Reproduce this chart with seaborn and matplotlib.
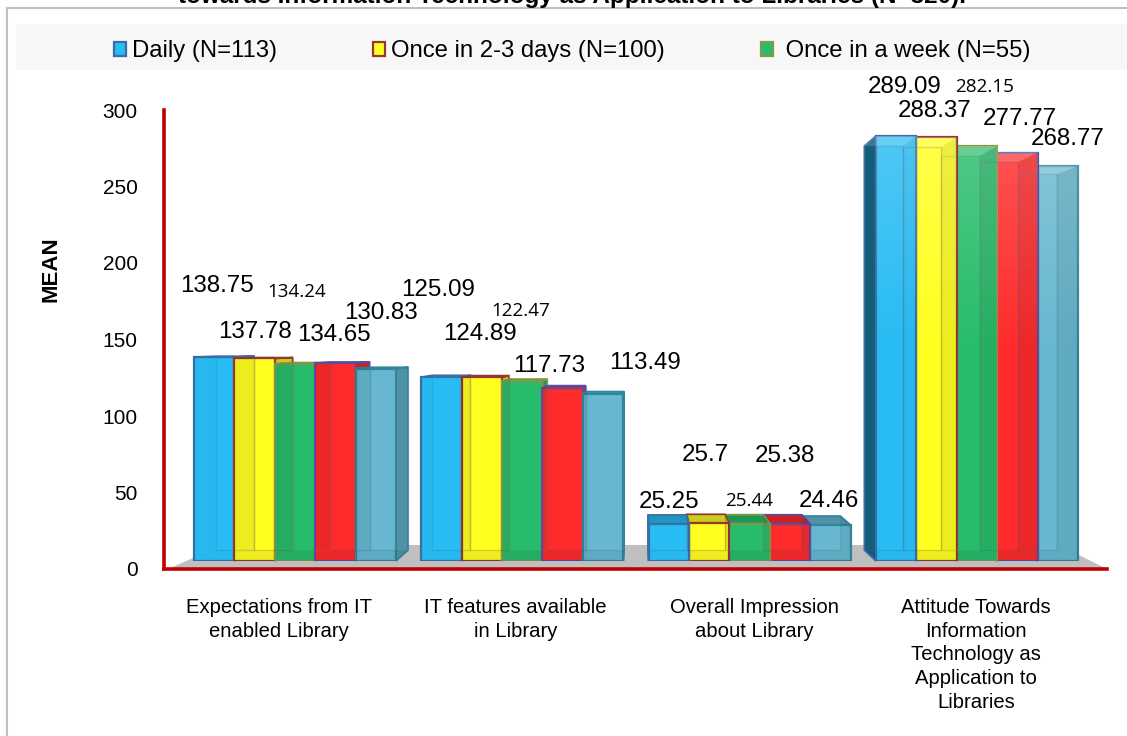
import matplotlib
matplotlib.use("Agg")
import numpy as np
import pandas as pd
import seaborn as sns
import matplotlib.pyplot as plt
from matplotlib.patches import Polygon, Rectangle
from matplotlib.colors import to_rgb, LinearSegmentedColormap

# ---- data ----
categories = ["Expectations from IT\nenabled Library",
              "IT features available\nin Library",
              "Overall Impression\nabout Library",
              "Attitude Towards\nInformation\nTechnology as\nApplication to\nLibraries"]
series = ["Daily (N=113)", "Once in 2-3 days (N=100)", " Once in a week (N=55)", "Series 4", "Series 5"]
daily = [138.75, 125.09, 25.25, 289.09]
every_few_days = [137.78, 124.89, 25.7, 288.37]
weekly = [134.24, 122.47, 25.44, 282.15]
series4 = [134.65, 117.73, 25.38, 277.77]
series5 = [130.83, 113.49, 24.46, 268.77]
all_values = [daily, every_few_days, weekly, series4, series5]
title = "towards Information Technology as Application to Libraries (N=320)."

# ---- styles ----
faces = ["#27bcf3", "#ffff20", "#27bc6b", "#ff2a2a", "#66b7cf"]
edges = ["#3b6ea5", "#953735", "#7f9a48", "#604a9b", "#31859c"]
small_labels = {(2, 0), (2, 1), (2, 2), (2, 3)}  # (series, group) set in the smaller face
# data-label offsets from each bar's front top centre, in pixels
label_dx = [[2.5, -3.8, -0.1, 8.5], [0, -2.2, -4, -1.5], [2, -1.8, -0.6, 8],
            [-1, -13.7, -5.5, 2.5], [5.5, 41.7, -1.6, 10]]
label_dy = [[71, 87, 22, 49], [26, 43, 68, 26], [72, 70, 23, 59],
            [28, 22, 68, 34], [56, 31, 24, 27]]

W, H = 1127, 736
sns.set_theme(style="white")
plt.rcParams["font.family"] = ["Liberation Sans", "DejaVu Sans"]
plt.rcParams["text.color"] = "black"
plt.rcParams["xtick.color"] = "black"
plt.rcParams["ytick.color"] = "black"
plt.rcParams["axes.labelcolor"] = "black"
fig = plt.figure(figsize=(W / 100, H / 100), dpi=100, facecolor="white")

def fx(p): return p / W
def fy(p): return 1 - p / H

# frame and legend band
fig.add_artist(Rectangle((fx(7), fy(800)), fx(1300), fy(8) - fy(800), transform=fig.transFigure,
                         fill=False, ec="#c0c0c0", lw=1.5))
fig.add_artist(Rectangle((fx(16), fy(70)), fx(1200), fy(24) - fy(70), transform=fig.transFigure,
                         fc="#f7f7f7", ec="none"))
fig.text(fx(572), fy(2.5), title, ha="center", va="baseline", fontsize=17.5, fontweight="bold", color="black")

L, R = 164, 1107
# axes carrying the scale and the red axis lines
ax_axis = fig.add_axes([fx(L), fy(569), fx(R - L), fy(110) - fy(569)], facecolor="none")
# axes carrying the bars: the front plane of the 3-D box
ax = fig.add_axes([fx(L), fy(561), fx(R - L), fy(120) - fy(561)], facecolor="none", zorder=3)

df = pd.DataFrame({
    "category": np.tile(categories, len(series)),
    "series": np.repeat(series, len(categories)),
    "value": np.concatenate(all_values),
})
sns.barplot(data=df, x="category", y="value", hue="series", hue_order=series, order=categories,
            palette=faces, width=0.889, gap=0, saturation=1, ax=ax, errorbar=None, legend=True)
handles, labels = ax.get_legend_handles_labels()
ax.get_legend().remove()

xlim = (-0.576, 3.572)
ax.set_xlim(xlim); ax.set_ylim(0, 300); ax.axis("off")

ax_axis.set_xlim(xlim); ax_axis.set_ylim(0, 300)
ax_axis.set_yticks([0, 50, 100, 150, 200, 250, 300])
ax_axis.set_xticks([-0.07, 0.97, 2.02, 2.995])
ax_axis.set_xticklabels(categories, fontsize=14.6, linespacing=1.31)
ax_axis.tick_params(axis="x", length=0, pad=21)
ax_axis.tick_params(axis="y", length=0, pad=19, labelsize=15)
ax_axis.set_ylabel("MEAN", fontsize=16, fontweight="bold", labelpad=0)
ax_axis.yaxis.set_label_coords((61 - L) / (R - L), 0.654)
for s in ("top", "right"):
    ax_axis.spines[s].set_visible(False)
for s in ("left", "bottom"):
    ax_axis.spines[s].set_color("#c00000"); ax_axis.spines[s].set_linewidth(2.6)
# floor of the box
ax_axis.add_patch(Polygon([(-0.559, 0), (-0.317, 15.7), (3.36, 15.7), (3.572, 0)],
                          closed=True, fc="#bfbfbf", ec="none", zorder=1))

# perspective: back of each bar recedes towards one vanishing point
VP = np.array([1.518, 150.0]); K = 0.049
def back(p): return np.asarray(p, float) + (VP - np.asarray(p, float)) * K
def shade(c, f): return tuple(np.clip(np.array(to_rgb(c)) * f, 0, 1))

white_fade = LinearSegmentedColormap.from_list("fade", [(1, 1, 1, 0), (1, 1, 1, 0), (1, 1, 1, 0.18)])

n_s, n_c = len(series), len(categories)
bars = [b for c in ax.containers for b in c]
for i, bar in enumerate(bars):
    s, g = i // n_c, i % n_c
    x0, x1 = bar.get_x(), bar.get_x() + bar.get_width()
    y1 = bar.get_height()
    z = 10 - abs((x0 + x1) / 2 - VP[0])      # bars nearest the vanishing point sit on top
    col, ec = faces[s], edges[s]
    A, B, C, D = (x0, 0), (x1, 0), (x1, y1), (x0, y1)
    a, b, c, d = back(A), back(B), back(C), back(D)
    dark = shade(col, 0.80)
    bar.set_zorder(z + 0.1); bar.set_edgecolor(ec); bar.set_linewidth(1.6)
    kw = dict(closed=True, clip_on=False)
    # faces that lie outside the front rectangle
    if c[0] > x1:
        ax.add_patch(Polygon([B, b, c, C], fc=dark, ec=ec, lw=1.2, zorder=z, **kw))
    if d[0] < x0:
        ax.add_patch(Polygon([A, a, d, D], fc=shade(col, 0.50) if s == 0 else dark, ec=ec, lw=1.2, zorder=z, **kw))
    if c[1] > y1:
        ax.add_patch(Polygon([D, d, c, C], fc=shade(col, 0.80), ec=ec, lw=1.2, zorder=z, **kw))
    # faces seen through the translucent front
    over = dict(fc=(0, 0, 0, 0.02 if s == 0 else 0.07), ec="none", zorder=z + 0.2, **kw)
    if d[0] > x0:
        ax.add_patch(Polygon([A, a, d, D], **over))
    if c[0] < x1:
        ax.add_patch(Polygon([B, b, c, C], **over))
    ax.add_patch(Polygon([A, a, b, B], **over))
    if c[1] < y1:
        ax.add_patch(Polygon([D, d, c, C], fc=(1, 1, 1, 0.15), ec="none", zorder=z + 0.2, **kw))
    ax.add_patch(Polygon([a, b, c, d], fc="none", ec=(*to_rgb(ec), 0.22), lw=1.0, zorder=z + 0.3, **kw))
    # the tallest group brightens towards the top
    if y1 > 200:
        im = ax.imshow(np.linspace(1, 0, 64).reshape(-1, 1), cmap=white_fade, aspect="auto",
                       extent=(x0, x1, 0, y1), zorder=z + 0.15, vmin=0, vmax=1)
    # data label
    v = all_values[s][g]
    small = (s, g) in small_labels
    ax.annotate(f"{v:g}", xy=((x0 + x1) / 2, v), xytext=(label_dx[s][g], label_dy[s][g]),
                textcoords="offset pixels", ha="center", va="center", zorder=50, annotation_clip=False,
                fontsize=13.6 if small else 17.4, color="black",
                family=["Open Sans", "DejaVu Sans"] if small else ["Liberation Sans", "DejaVu Sans"])
ax.set_xlim(xlim); ax.set_ylim(0, 300)

# legend lists the three visible series only
for h, e in zip(handles, edges):
    h.set_edgecolor(e); h.set_linewidth(1.6)
leg = fig.legend(handles[:3], labels[:3], ncol=3, loc="center left", bbox_to_anchor=(fx(114), fy(51.5)),
                 frameon=False, fontsize=17.2, handlelength=0.52, handleheight=0.52,
                 handletextpad=0.25, columnspacing=4.0, borderpad=0, borderaxespad=0)

fig.savefig("out.png", dpi=100)
